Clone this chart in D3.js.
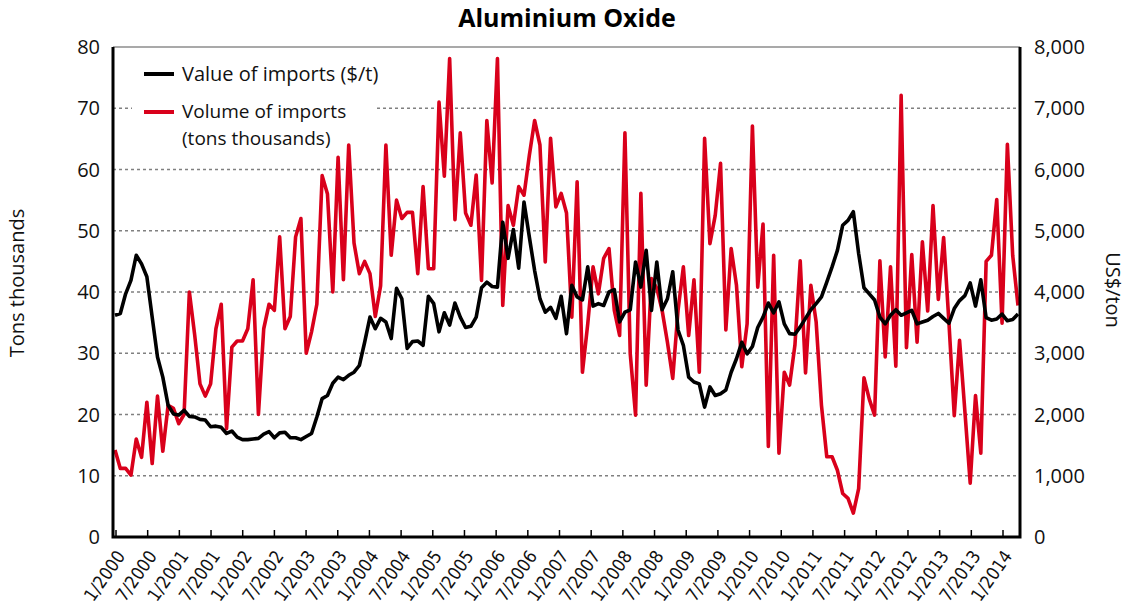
<!DOCTYPE html>
<html><head><meta charset="utf-8">
<script src="https://cdn.jsdelivr.net/npm/d3@7"></script>
<style>body{margin:0;background:#fff}svg{display:block}</style>
</head><body>
<svg id="chart" width="1134" height="611"></svg>
<script>
// Monthly data, 1/2000 .. 3/2014
const volumeImports = [
 14.2,11.2,11.2,10.1,16,13,22,12,23,14,
 21.5,21,18.5,20,40,33,25,23,25,34,
 38,17.7,31,32,32,34,42,20,34,38,
 37,49,34,36,49,52,30,33.5,38,59,
 56,40,62,42,64,48,43,45,43,36,
 41,64,46,55,52,53,53,43,57.2,43.8,
 43.8,71,58.9,78.1,51.8,66,52.9,50.9,59.1,41.9,
 68,57.8,78.1,37.8,54.1,50.9,57.2,55.8,62.3,68,
 64,44.9,65.1,53.9,56.1,52.9,35.9,58,26.9,34.8,
 44.1,39.7,45.5,47.1,37,32.9,66,29.9,19.9,56.1,
 24.8,42.2,40.6,37,31.8,25.9,37,44.1,32.9,42,
 26.9,65.1,47.9,52.5,61,33.8,47.1,41.1,27.8,34.8,
 67.1,40.8,51.1,14.8,46,13.7,26.9,24.8,31.3,45.1,
 26.8,41.1,35.1,21.5,13.1,13.1,10.9,7.1,6.3,3.9,
 7.9,26,22.5,19.9,45.1,29.4,44.1,27.9,72.1,30.9,
 46.1,31.8,48.2,36.9,54.1,38.8,48.9,35,19.8,32.1,
 20.5,8.8,23.1,13.7,45,46,55.1,34.9,64.1,46,37.8
];
const valueImports = [
 3620,3650,3970,4190,4600,4460,4250,3590,2940,2610,
 2150,2010,1990,2070,1970,1960,1920,1910,1800,1810,
 1790,1690,1730,1630,1590,1590,1600,1610,1680,1720,
 1620,1700,1710,1620,1620,1590,1640,1690,1960,2260,
 2310,2510,2610,2570,2640,2690,2800,3180,3590,3400,
 3570,3510,3240,4060,3890,3080,3190,3200,3130,3930,
 3810,3350,3660,3460,3820,3590,3420,3440,3590,4070,
 4160,4090,4080,5140,4550,5020,4390,5470,4900,4350,
 3890,3670,3750,3570,3930,3320,4110,3920,3870,4410,
 3770,3810,3780,4000,4040,3510,3670,3710,4490,4080,
 4680,3700,4490,3710,3890,4330,3380,3130,2610,2530,
 2500,2120,2450,2310,2340,2400,2690,2910,3180,2990,
 3110,3420,3590,3820,3660,3840,3480,3320,3310,3430,
 3570,3710,3810,3920,4160,4410,4680,5090,5170,5310,
 4630,4070,3970,3870,3590,3480,3620,3710,3620,3660,
 3700,3480,3510,3540,3600,3650,3570,3490,3730,3860,
 3940,4150,3770,4200,3580,3540,3560,3640,3530,3550,3640
];
const tickLabels = ["1/2000","7/2000","1/2001","7/2001","1/2002","7/2002","1/2003","7/2003",
 "1/2004","7/2004","1/2005","7/2005","1/2006","7/2006","1/2007","7/2007","1/2008","7/2008",
 "1/2009","7/2009","1/2010","7/2010","1/2011","7/2011","1/2012","7/2012","1/2013","7/2013","1/2014"];
const leftTicks = [0,10,20,30,40,50,60,70,80];
const rightTicks = [0,1000,2000,3000,4000,5000,6000,7000,8000];
const seriesNames = ["Value of imports ($/t)", ["Volume of imports","(tons thousands)"]];
const chartTitle = "Aluminium Oxide";
const leftTitle = "Tons thousands";
const rightTitle = "US$/ton";

const W = 1134, H = 611;
const L = 113, R = 1020, T = 47, B = 537;
const RED = "#d9001b";
const svg = d3.select("#chart");
const font = "'Open Sans', Lato, sans-serif";

const x = d3.scaleLinear().domain([0, volumeImports.length - 1]).range([115, 1018]);
const xt = d3.scaleLinear().domain([0, tickLabels.length - 1]).range([116, 1003]);
const yL = d3.scaleLinear().domain([0, 80]).range([B, T]);
const yR = d3.scaleLinear().domain([0, 8000]).range([B, T]);

svg.append("rect").attr("width", W).attr("height", H).attr("fill", "#fff");

// gridlines
svg.append("g").selectAll("line").data(leftTicks.filter(d => d > 0 && d < 80)).join("line")
  .attr("x1", L).attr("x2", R).attr("y1", d => yL(d)).attr("y2", d => yL(d))
  .attr("stroke", "#808080").attr("stroke-width", 1.4).attr("stroke-dasharray", "3,3");
svg.append("line").attr("x1", L).attr("x2", R).attr("y1", yL(80)).attr("y2", yL(80))
  .attr("stroke", "#555").attr("stroke-width", 1.2);

// legend background (covers grid)
svg.append("rect").attr("x", 132).attr("y", 53).attr("width", 244).attr("height", 91).attr("fill", "#fff");

// series
const lineV = d3.line().x((d, i) => x(i)).y(d => yL(d));
const lineP = d3.line().x((d, i) => x(i)).y(d => yR(d));
svg.append("path").datum(volumeImports).attr("d", lineV).attr("fill", "none")
  .attr("stroke", RED).attr("stroke-width", 3.6).attr("stroke-linejoin", "round");
svg.append("path").datum(valueImports).attr("d", lineP).attr("fill", "none")
  .attr("stroke", "#000").attr("stroke-width", 3.6).attr("stroke-linejoin", "round");

// frame
svg.append("path").attr("d", `M${L},${T}V${B}H${R}V${T}`).attr("fill", "none")
  .attr("stroke", "#000").attr("stroke-width", 3);

// x ticks
svg.append("g").selectAll("line").data(tickLabels).join("line")
  .attr("x1", (d, i) => xt(i)).attr("x2", (d, i) => xt(i))
  .attr("y1", B - 7).attr("y2", B).attr("stroke", "#000").attr("stroke-width", 1.5);
svg.append("g").selectAll("text").data(tickLabels).join("text")
  .attr("transform", (d, i) => `translate(${xt(i) + 10},${B + 19}) rotate(-55)`)
  .attr("text-anchor", "end")
  .style("font-family", "'Liberation Sans Narrow', 'DejaVu Sans Condensed', sans-serif")
  .style("font-size", "18px").attr("fill", "#111").text(d => d);

// y tick labels
svg.append("g").selectAll("text").data(leftTicks).join("text")
  .attr("x", 100).attr("y", d => yL(d)).attr("dy", "0.35em").attr("text-anchor", "end")
  .style("font-family", font).style("font-size", "20px").attr("fill", "#111").text(d => d);
svg.append("g").selectAll("text").data(rightTicks).join("text")
  .attr("x", 1034).attr("y", d => yR(d)).attr("dy", "0.35em").attr("text-anchor", "start")
  .style("font-family", font).style("font-size", "20px").attr("fill", "#111").text(d => d3.format(",")(d));

// axis titles
svg.append("text").attr("transform", "translate(24,283) rotate(-90)").attr("text-anchor", "middle")
  .style("font-family", font).style("font-size", "20px").attr("fill", "#111").text(leftTitle);
svg.append("text").attr("transform", "translate(1106,290) rotate(90)").attr("text-anchor", "middle")
  .style("font-family", font).style("font-size", "20px").attr("fill", "#111").text(rightTitle);

// title
svg.append("text").attr("x", 567).attr("y", 27).attr("text-anchor", "middle")
  .style("font-family", font).style("font-weight", "700").style("font-size", "25px")
  .attr("fill", "#000").text(chartTitle);

// legend
const lg = svg.append("g");
lg.append("line").attr("x1", 144).attr("x2", 174).attr("y1", 74).attr("y2", 74)
  .attr("stroke", "#000").attr("stroke-width", 4);
lg.append("text").attr("x", 182).attr("y", 74).attr("dy", "0.35em")
  .style("font-family", font).style("font-size", "20px").attr("fill", "#111").text(seriesNames[0]);
lg.append("line").attr("x1", 144).attr("x2", 174).attr("y1", 112).attr("y2", 112)
  .attr("stroke", RED).attr("stroke-width", 4);
lg.append("text").attr("x", 182).attr("y", 111).attr("dy", "0.35em")
  .style("font-family", font).style("font-size", "19px").attr("fill", "#111").text(seriesNames[1][0]);
lg.append("text").attr("x", 182).attr("y", 138).attr("dy", "0.35em")
  .style("font-family", font).style("font-size", "19px").attr("fill", "#111").text(seriesNames[1][1]);
</script>
</body></html>
